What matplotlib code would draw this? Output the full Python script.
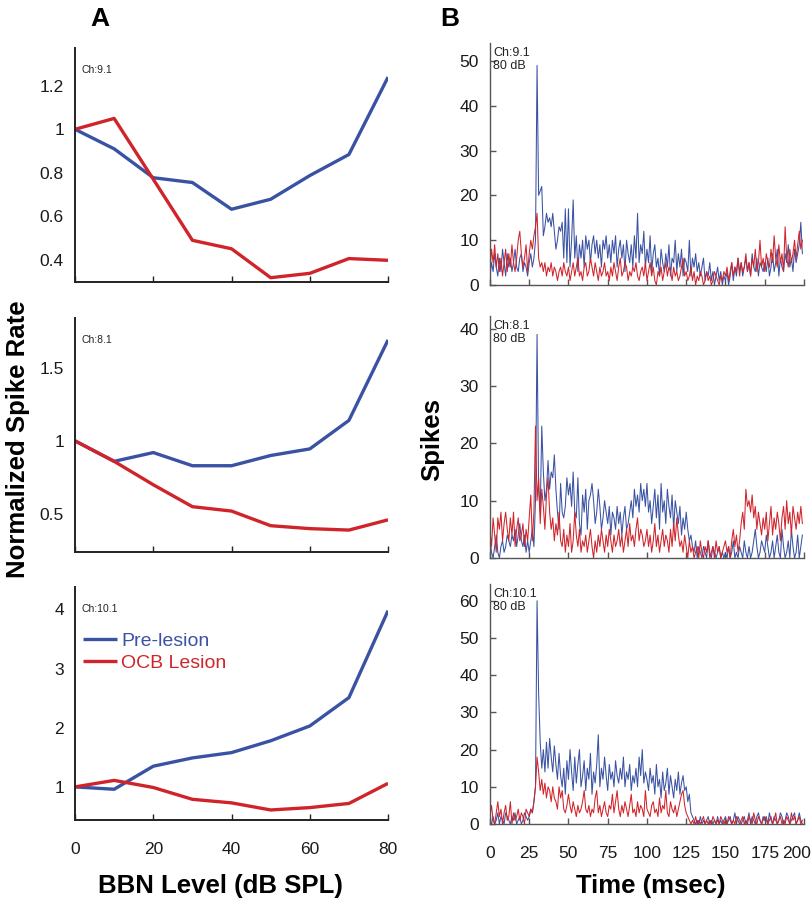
import numpy as np
import matplotlib
matplotlib.use('Agg')
import matplotlib.pyplot as plt
import matplotlib.transforms as mtransforms
from matplotlib.ticker import FormatStrFormatter

plt.rcParams['font.family'] = ['Liberation Sans', 'DejaVu Sans']

BLUE = '#3a52a3'
RED = '#d0242b'

# --- panel A: rate-level functions ---
levels = [0, 10, 20, 30, 40, 50, 60, 70, 80]

pre_ch9 = [1.0, 0.91, 0.777, 0.755, 0.632, 0.678, 0.787, 0.884, 1.24]
ocb_ch9 = [1.0, 1.05, 0.77, 0.489, 0.45, 0.317, 0.337, 0.405, 0.397]

pre_ch8 = [1.0, 0.86, 0.92, 0.83, 0.83, 0.90, 0.945, 1.14, 1.69]
ocb_ch8 = [1.0, 0.86, 0.70, 0.55, 0.52, 0.42, 0.40, 0.39, 0.46]

pre_ch10 = [1.0, 0.96, 1.35, 1.49, 1.58, 1.78, 2.03, 2.51, 3.98]
ocb_ch10 = [1.0, 1.11, 0.99, 0.79, 0.73, 0.61, 0.65, 0.72, 1.06]

# --- panel B: PSTHs at 80 dB, 1 ms bins ---
psth_pre_ch9 = (
    [2, 5, 3, 7, 4, 2, 6, 3, 8, 5, 2, 7, 4, 6, 3, 5, 8, 4, 3, 6, 7, 3, 5, 4, 2]
    + [5, 7, 4, 6, 10, 49, 20, 21, 22, 11, 13, 16, 14, 15, 13, 16, 12, 8, 10, 13, 12, 14, 6, 17, 5]
    + [17, 4, 10, 19, 6, 11, 3, 9, 6, 10, 4, 11, 8, 10, 5, 9, 11, 7, 10, 6, 9, 4, 10, 8, 11]
    + [6, 9, 5, 10, 7, 11, 4, 8, 10, 6, 9, 3, 10, 7, 5, 9, 4, 11, 6, 16, 5, 9, 7, 12, 4]
    + [8, 5, 11, 3, 7, 9, 4, 6, 2, 8, 5, 3, 7, 4, 9, 2, 6, 5, 10, 3, 7, 4, 8, 2, 6]
    + [5, 3, 10, 2, 6, 4, 7, 3, 5, 2, 4, 6, 1, 3, 2, 5, 1, 3, 0, 2, 4, 1, 3, 0, 2]
    + [1, 3, 0, 2, 5, 1, 4, 2, 6, 3, 5, 2, 4, 6, 3, 5, 2, 7, 4, 3, 6, 2, 5, 4, 3]
    + [5, 3, 6, 2, 4, 7, 3, 5, 8, 2, 6, 4, 3, 7, 5, 9, 4, 6, 3, 8, 5, 7, 9, 14, 7]
)
psth_ocb_ch9 = (
    [3, 8, 5, 9, 4, 7, 3, 6, 2, 5, 8, 3, 7, 4, 9, 5, 3, 6, 10, 12, 7, 4, 6, 9, 3]
    + [7, 10, 8, 11, 13, 16, 6, 4, 5, 3, 5, 2, 4, 3, 5, 2, 4, 3, 1, 3, 4, 2, 5, 3, 2]
    + [4, 1, 3, 5, 2, 4, 6, 2, 3, 1, 4, 5, 2, 3, 6, 4, 2, 5, 3, 1, 4, 2, 3, 5, 2]
    + [3, 1, 4, 2, 5, 3, 1, 4, 6, 2, 3, 5, 4, 1, 3, 2, 4, 3, 5, 2, 1, 3, 4, 2, 5]
    + [1, 3, 5, 2, 4, 1, 0, 3, 2, 4, 1, 3, 5, 2, 4, 3, 1, 4, 2, 3, 1, 2, 4, 6, 2]
    + [3, 1, 2, 4, 1, 3, 0, 2, 1, 3, 2, 0, 1, 3, 1, 2, 0, 1, 3, 2, 1, 0, 2, 1, 3]
    + [2, 4, 1, 3, 5, 2, 4, 3, 6, 2, 5, 3, 4, 7, 3, 5, 2, 6, 4, 8, 3, 5, 10, 4, 6]
    + [3, 7, 5, 4, 8, 5, 11, 6, 4, 9, 5, 7, 3, 13, 6, 4, 8, 5, 7, 10, 6, 9, 12, 8, 10]
)
psth_pre_ch8 = (
    [3, 1, 0, 2, 4, 1, 0, 2, 3, 1, 2, 4, 3, 2, 4, 3, 5, 2, 4, 6, 3, 2, 4, 1, 3]
    + [1, 3, 5, 2, 10, 39, 12, 8, 23, 15, 10, 12, 17, 12, 15, 14, 18, 12, 8, 5, 13, 8, 7, 9, 14]
    + [11, 13, 9, 15, 8, 7, 14, 6, 4, 11, 8, 12, 5, 10, 11, 13, 10, 6, 8, 12, 9, 5, 7, 10, 8]
    + [6, 9, 4, 8, 7, 5, 9, 6, 8, 4, 7, 9, 5, 6, 8, 10, 7, 12, 9, 11, 8, 13, 10, 12, 9]
    + [13, 8, 10, 6, 9, 12, 7, 11, 5, 13, 8, 10, 6, 12, 9, 7, 11, 5, 10, 8, 6, 9, 4, 7, 5]
    + [8, 5, 3, 4, 2, 1, 3, 0, 2, 1, 0, 2, 1, 0, 3, 1, 0, 2, 1, 0, 1, 2, 0, 1, 0]
    + [1, 0, 2, 0, 1, 3, 0, 1, 0, 2, 1, 0, 3, 1, 0, 2, 0, 1, 3, 5, 2, 0, 1, 3, 2]
    + [1, 4, 2, 0, 1, 3, 0, 2, 4, 1, 0, 5, 2, 0, 1, 3, 0, 5, 2, 0, 1, 4, 0, 2, 4]
)
psth_ocb_ch8 = (
    [5, 2, 7, 4, 1, 7, 5, 8, 3, 6, 8, 5, 3, 7, 4, 8, 2, 5, 7, 3, 4, 6, 2, 5, 3]
    + [7, 11, 3, 8, 23, 10, 14, 6, 12, 9, 5, 11, 14, 8, 5, 7, 3, 6, 4, 8, 3, 2, 5, 1, 4]
    + [2, 6, 1, 3, 8, 4, 2, 5, 1, 3, 2, 4, 1, 3, 5, 2, 0, 3, 1, 4, 2, 5, 3, 1, 4]
    + [2, 5, 3, 1, 4, 2, 3, 5, 2, 4, 1, 3, 5, 2, 6, 3, 4, 2, 5, 7, 3, 5, 4, 2, 3]
    + [5, 2, 4, 1, 3, 6, 2, 4, 1, 3, 5, 2, 4, 3, 1, 5, 2, 6, 3, 7, 4, 2, 3, 1, 4]
    + [2, 0, 3, 1, 2, 0, 1, 2, 0, 3, 1, 0, 2, 1, 3, 0, 1, 2, 0, 3, 1, 2, 0, 1, 2]
    + [3, 1, 2, 0, 3, 5, 2, 4, 1, 3, 6, 8, 5, 12, 9, 10, 8, 11, 7, 9, 5, 8, 6, 4, 7]
    + [5, 8, 3, 6, 9, 4, 7, 5, 8, 6, 3, 7, 9, 5, 10, 6, 8, 4, 9, 7, 5, 8, 6, 9, 6]
)
psth_pre_ch10 = (
    [1, 0, 2, 0, 1, 3, 0, 2, 1, 0, 3, 2, 1, 0, 2, 1, 3, 0, 1, 2, 0, 1, 3, 2, 1]
    + [2, 4, 3, 6, 10, 60, 35, 22, 15, 20, 14, 22, 15, 23, 18, 14, 21, 16, 12, 19, 13, 10, 15, 8, 17]
    + [12, 20, 14, 9, 18, 11, 16, 20, 10, 13, 17, 9, 15, 12, 19, 8, 14, 11, 16, 24, 10, 15, 12, 18, 13]
    + [9, 16, 12, 14, 10, 17, 13, 11, 15, 12, 18, 10, 14, 12, 16, 9, 13, 11, 15, 10, 18, 13, 20, 11, 14]
    + [12, 9, 15, 11, 13, 8, 16, 10, 12, 7, 14, 9, 11, 15, 8, 13, 10, 7, 12, 9, 14, 8, 11, 13, 9]
    + [10, 6, 8, 3, 2, 1, 0, 1, 0, 2, 0, 1, 0, 1, 2, 0, 1, 0, 1, 0, 2, 0, 1, 0, 1]
    + [2, 0, 1, 2, 0, 1, 3, 0, 2, 1, 0, 1, 2, 0, 1, 3, 0, 2, 1, 0, 2, 3, 1, 0, 2]
    + [1, 2, 0, 3, 1, 0, 2, 1, 0, 1, 3, 2, 0, 1, 3, 2, 0, 1, 2, 3, 0, 1, 3, 1, 0]
)
psth_ocb_ch10 = (
    [2, 5, 1, 0, 3, 6, 2, 4, 0, 3, 5, 1, 2, 6, 0, 3, 1, 2, 4, 1, 3, 2, 0, 4, 3]
    + [2, 4, 3, 6, 10, 18, 14, 9, 12, 8, 11, 7, 10, 9, 6, 10, 7, 6, 4, 10, 7, 9, 4, 3, 5]
    + [8, 5, 3, 6, 4, 2, 5, 3, 4, 6, 9, 4, 3, 5, 2, 4, 3, 7, 9, 3, 5, 2, 4, 6, 3]
    + [2, 5, 4, 8, 3, 6, 9, 4, 2, 5, 3, 6, 4, 2, 5, 8, 3, 4, 2, 6, 3, 5, 4, 2, 9]
    + [4, 3, 2, 5, 6, 3, 4, 2, 7, 3, 5, 4, 9, 3, 2, 6, 4, 3, 5, 2, 4, 6, 8, 9, 5]
    + [3, 2, 1, 0, 1, 0, 2, 0, 1, 0, 1, 2, 0, 1, 0, 1, 0, 2, 1, 0, 1, 0, 2, 1, 0]
    + [1, 0, 2, 1, 0, 1, 0, 2, 1, 0, 1, 2, 0, 1, 0, 2, 1, 0, 3, 1, 0, 2, 1, 0, 1]
    + [2, 1, 0, 1, 2, 0, 1, 3, 0, 1, 2, 0, 1, 0, 2, 1, 0, 3, 1, 2, 0, 1, 2, 0, 1]
)

channels = ['Ch:9.1', 'Ch:8.1', 'Ch:10.1']

fig = plt.figure(figsize=(8.12, 9.06), dpi=100)

# axes rectangles (figure fraction)
left_rects = [[0.0924, 0.6887, 0.3855, 0.2583],
              [0.0924, 0.3907, 0.3855, 0.2583],
              [0.0924, 0.0949, 0.3855, 0.2572]]
right_rects = [[0.6034, 0.6854, 0.3867, 0.2671],
               [0.6034, 0.3841, 0.3867, 0.2671],
               [0.6034, 0.0905, 0.3867, 0.2649]]

rate_data = [(pre_ch9, ocb_ch9), (pre_ch8, ocb_ch8), (pre_ch10, ocb_ch10)]
rate_ylims = [(0.297, 1.374), (0.24, 1.84), (0.44, 4.38)]
rate_yticks = [[0.4, 0.6, 0.8, 1, 1.2], [0.5, 1, 1.5], [1, 2, 3, 4]]

psth_data = [(psth_pre_ch9, psth_ocb_ch9), (psth_pre_ch8, psth_ocb_ch8),
             (psth_pre_ch10, psth_ocb_ch10)]
psth_ylims = [(0, 54), (0, 42.2), (0, 64.5)]
psth_yticks = [[0, 10, 20, 30, 40, 50], [0, 10, 20, 30, 40], [0, 10, 20, 30, 40, 50, 60]]


def style_axes(ax, spine_color, spine_lw, ylen=4):
    ax.spines['top'].set_visible(False)
    ax.spines['right'].set_visible(False)
    for s in ['left', 'bottom']:
        ax.spines[s].set_color(spine_color)
        ax.spines[s].set_linewidth(spine_lw)
    ax.tick_params(axis='x', direction='in', length=4, width=1, colors=spine_color,
                   labelcolor='#1a1a1a', labelsize=12.5, pad=16)
    ax.tick_params(axis='y', direction='in', length=ylen, width=1, colors=spine_color,
                   labelcolor='#1a1a1a', labelsize=12.5, pad=8)


for i in range(3):
    ax = fig.add_axes(left_rects[i])
    pre, ocb = rate_data[i]
    ax.plot(levels, pre, color=BLUE, lw=2.4, label='Pre-lesion', solid_capstyle='butt')
    ax.plot(levels, ocb, color=RED, lw=2.4, label='OCB Lesion', solid_capstyle='butt')
    ax.set_xlim(0, 80)
    ax.set_ylim(*rate_ylims[i])
    ax.set_xticks([0, 20, 40, 60, 80])
    ax.set_yticks(rate_yticks[i])
    ax.yaxis.set_major_formatter(FormatStrFormatter('%g'))
    style_axes(ax, '#222222', 1.4, ylen=0)
    if i < 2:
        ax.set_xticklabels([])
    else:
        leg = ax.legend(loc='center left', bbox_to_anchor=(0.026, 0.72), frameon=False,
                        fontsize=14, handlelength=1.75, handletextpad=0.2,
                        labelspacing=0.25, borderpad=0, borderaxespad=0,
                        labelcolor='linecolor')
        for line in leg.get_lines():
            line.set_linewidth(2.4)
    ax.text(0.02, 0.905, channels[i], transform=ax.transAxes, fontsize=7.5,
            color='#222222', va='center', ha='left')

for i in range(3):
    ax = fig.add_axes(right_rects[i])
    pre, ocb = psth_data[i]
    ax.plot(np.arange(len(pre)), pre, color=BLUE, lw=0.75)
    ax.plot(np.arange(len(ocb)), ocb, color=RED, lw=0.75)
    ax.set_xlim(0, 199)
    ax.set_ylim(*psth_ylims[i])
    ax.set_xticks([0, 25, 50, 75, 100, 125, 150, 175, 200])
    ax.set_yticks(psth_yticks[i])
    style_axes(ax, '#555555', 1.0)
    if i < 2:
        ax.set_xticklabels([])
    else:
        fig.canvas.draw()
        last = ax.get_xticklabels()[-1]
        last.set_horizontalalignment('right')
        last.set_transform(last.get_transform() +
                           mtransforms.ScaledTranslation(7 / 100, 0, fig.dpi_scale_trans))
    ax.text(0.01, 0.985, channels[i] + '\n80 dB', transform=ax.transAxes,
            fontsize=9, color='#222222', va='top', ha='left', linespacing=1.15)

fig.text(0.123, 0.979, 'A', fontsize=19, fontweight='bold', ha='center', va='center')
fig.text(0.554, 0.979, 'B', fontsize=19, fontweight='bold', ha='center', va='center')
fig.text(0.022, 0.515, 'Normalized Spike Rate', rotation=90, fontsize=18.5,
         fontweight='bold', ha='center', va='center')
fig.text(0.532, 0.515, 'Spikes', rotation=90, fontsize=18.5,
         fontweight='bold', ha='center', va='center')
fig.text(0.271, 0.022, 'BBN Level (dB SPL)', fontsize=18.5, fontweight='bold',
         ha='center', va='center')
fig.text(0.801, 0.022, 'Time (msec)', fontsize=18.5, fontweight='bold',
         ha='center', va='center')

fig.savefig('out.png', dpi=100)
